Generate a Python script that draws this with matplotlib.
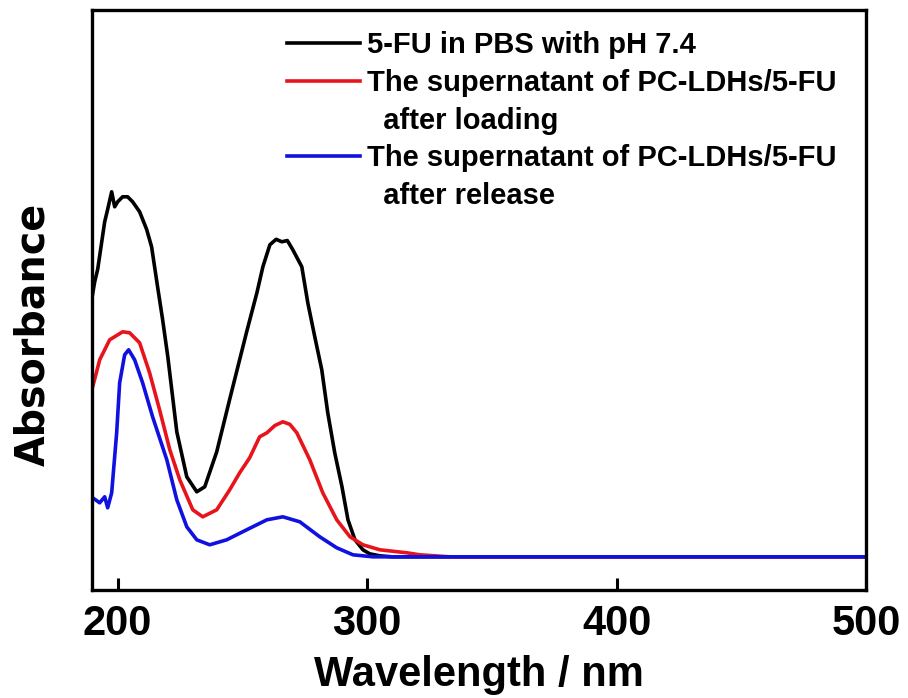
import matplotlib
matplotlib.use("Agg")
import matplotlib.pyplot as plt
from matplotlib.lines import Line2D

# ---- data ----
black_wl = [189.6, 190.8, 192.0, 194.8, 196.0, 197.6, 198.8, 200.0, 202.0, 204.0,
            206.0, 208.8, 211.6, 213.6, 216.0, 218.0, 220.1, 223.7, 227.7, 231.7,
            234.9, 239.7, 244.9, 251.7, 255.8, 258.2, 261.0, 263.5, 265.8, 268.0,
            270.2, 273.8, 276.2, 279.0, 281.8, 284.2, 287.0, 289.9, 292.3, 295.1,
            298.3, 301.0, 305.0, 310.0, 350.0, 400.0, 450.0, 500.0]
black_abs = [1.03, 1.10, 1.15, 1.34, 1.39, 1.46, 1.40, 1.42, 1.44, 1.44,
             1.42, 1.38, 1.31, 1.24, 1.08, 0.95, 0.80, 0.50, 0.32, 0.26,
             0.28, 0.42, 0.63, 0.90, 1.056, 1.16, 1.248, 1.27, 1.26, 1.265,
             1.228, 1.16, 1.016, 0.88, 0.748, 0.576, 0.416, 0.28, 0.148, 0.068,
             0.028, 0.012, 0.004, 0.0, 0.0, 0.0, 0.0, 0.0]

red_wl = [189.6, 190.0, 192.8, 196.8, 202.0, 204.8, 208.8, 212.8, 216.8, 220.9,
          224.9, 230.1, 234.1, 239.7, 244.9, 248.9, 252.9, 256.9, 259.8, 263.0,
          266.2, 269.0, 271.8, 277.0, 282.2, 287.8, 293.1, 298.3, 305.1, 315.9,
          321.1, 333.0, 400.0, 450.0, 500.0]
red_abs = [0.67, 0.68, 0.788, 0.868, 0.90, 0.896, 0.856, 0.736, 0.588, 0.428,
           0.308, 0.188, 0.16, 0.188, 0.268, 0.336, 0.396, 0.48, 0.496, 0.525,
           0.54, 0.53, 0.496, 0.388, 0.256, 0.148, 0.08, 0.048, 0.028, 0.016,
           0.008, 0.0, 0.0, 0.0, 0.0]

blue_wl = [189.6, 190.0, 192.8, 194.8, 196.0, 197.6, 199.6, 200.8, 202.8, 204.4,
           206.8, 210.0, 214.0, 219.7, 223.7, 227.7, 231.7, 236.9, 243.7, 251.7,
           259.8, 266.2, 273.0, 281.0, 287.8, 294.3, 302.3, 350.0, 400.0, 450.0,
           500.0]
blue_abs = [0.24, 0.236, 0.216, 0.24, 0.196, 0.256, 0.496, 0.696, 0.808, 0.828,
            0.788, 0.696, 0.56, 0.388, 0.228, 0.12, 0.068, 0.048, 0.068, 0.108,
            0.148, 0.16, 0.14, 0.08, 0.036, 0.008, 0.0, 0.0, 0.0, 0.0,
            0.0]

labels = ["5-FU in PBS with pH 7.4",
          "The supernatant of PC-LDHs/5-FU",
          "  after loading",
          "The supernatant of PC-LDHs/5-FU",
          "  after release"]
x_ticks = [200, 300, 400, 500]

FONT = ['Liberation Sans', 'DejaVu Sans']

fig = plt.figure(figsize=(9.08, 6.98), dpi=100)
ax = fig.add_axes([0.101, 0.155, 0.853, 0.831])

lw = 2.6
ax.plot(black_wl, black_abs, color='black', lw=lw)
ax.plot(red_wl, red_abs, color='#e8141c', lw=lw)
ax.plot(blue_wl, blue_abs, color='#1010e0', lw=lw)

ax.set_xlim(189.6, 500)
ax.set_ylim(-0.132, 2.188)
ax.set_xticks(x_ticks)
ax.set_yticks([])
ax.tick_params(axis='x', direction='in', length=9, width=2.2, pad=10)
for lab in ax.get_xticklabels():
    lab.set_fontfamily(FONT)
    lab.set_fontweight('bold')
    lab.set_fontsize(30)
for s in ax.spines.values():
    s.set_linewidth(2.4)

ax.set_xlabel("Wavelength / nm", fontsize=30, fontweight='bold',
              family=FONT, labelpad=8)
ax.set_ylabel("Absorbance", fontsize=28.5, fontweight='bold',
              family=['DejaVu Sans'])
ax.yaxis.set_label_coords(-0.049, 0.44)

handles = [Line2D([], [], color='black', lw=lw),
           Line2D([], [], color='#e8141c', lw=lw),
           Line2D([], [], color='none', lw=0),
           Line2D([], [], color='#1010e0', lw=lw),
           Line2D([], [], color='none', lw=0)]
leg = ax.legend(handles, labels, loc='upper right', frameon=False,
                prop={'family': FONT, 'weight': 'bold', 'size': 21},
                handlelength=2.5, handletextpad=0.25, labelspacing=0.33,
                borderaxespad=0.0, bbox_to_anchor=(0.977, 0.983))

fig.savefig("out.png", dpi=100)
